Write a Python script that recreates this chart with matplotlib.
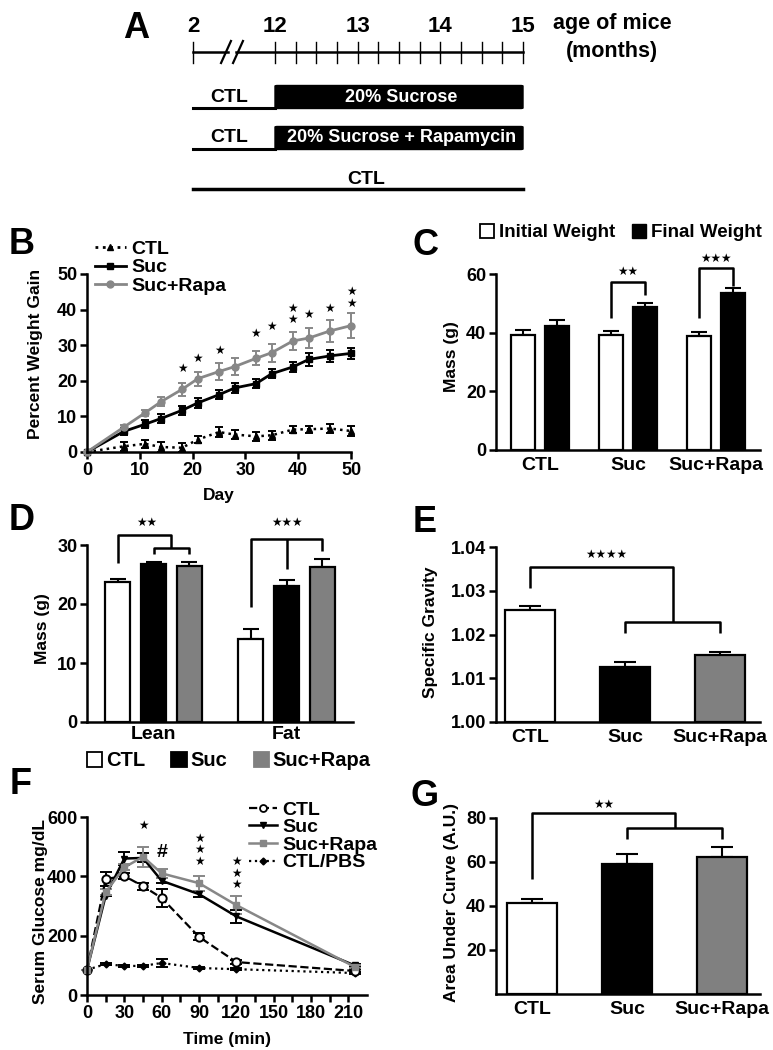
import numpy as np
import matplotlib
matplotlib.use('Agg')
import matplotlib.pyplot as plt
from matplotlib.patches import FancyBboxPatch, Patch
from matplotlib.lines import Line2D

plt.rcParams['font.family'] = ['Liberation Sans', 'DejaVu Sans']
plt.rcParams['font.weight'] = 'bold'
plt.rcParams['axes.labelweight'] = 'bold'
plt.rcParams['axes.linewidth'] = 1.8
plt.rcParams['xtick.major.width'] = 1.8
plt.rcParams['ytick.major.width'] = 1.8
plt.rcParams['xtick.minor.width'] = 1.8
plt.rcParams['xtick.major.size'] = 5
plt.rcParams['ytick.major.size'] = 5
plt.rcParams['xtick.minor.size'] = 5
plt.rcParams['xtick.labelsize'] = 13
plt.rcParams['ytick.labelsize'] = 13
plt.rcParams['axes.labelsize'] = 12.5

# ---------------- data ----------------
# Panel A (schematic)
age_labels = ['2', '12', '13', '14', '15']
age_months = [2, 12, 13, 14, 15]
diet_start, diet_end = 12, 15
diet_labels = ['20% Sucrose', '20% Sucrose + Rapamycin']

# Panel B
days = [0, 7, 11, 14, 18, 21, 25, 28, 32, 35, 39, 42, 46, 50]
b_ctl = [0, 1.6, 2.3, 1.4, 1.2, 3.5, 5.6, 4.9, 4.4, 4.7, 6.3, 6.4, 6.6, 5.9]
b_ctl_err = [0, 1.3, 1.2, 1.3, 1.3, 1.0, 1.3, 1.3, 1.2, 1.3, 1.0, 1.0, 1.2, 1.5]
b_suc = [0, 5.8, 7.8, 9.4, 11.7, 13.8, 16.1, 18.0, 19.2, 22.0, 23.9, 26.0, 27.0, 27.7]
b_suc_err = [0, 1.0, 1.1, 1.3, 1.3, 1.3, 1.2, 1.5, 1.2, 1.2, 1.5, 1.8, 1.6, 1.6]
b_rapa = [0, 7.0, 11.0, 14.1, 17.6, 20.6, 22.6, 24.0, 26.3, 27.9, 31.2, 32.0, 34.0, 35.5]
b_rapa_err = [0, 0.6, 0.8, 1.3, 1.8, 2.0, 2.3, 2.3, 2.0, 2.5, 2.5, 2.8, 3.0, 3.5]
# significance marks: day, number of stacked stars, centre height
b_star_day = [18, 21, 25, 32, 35, 39, 42, 46, 50]
b_star_n = [1, 1, 1, 1, 1, 2, 1, 1, 2]
b_star_y = [23.6, 26.3, 28.4, 33.3, 35.2, 38.8, 38.5, 40.3, 43.4]

groups = ['CTL', 'Suc', 'Suc+Rapa']
# Panel C
c_init = [39.2, 39.1, 38.9]
c_init_err = [1.7, 1.6, 1.3]
c_final = [42.3, 48.6, 53.4]
c_final_err = [1.9, 1.6, 1.7]

# Panel D
d_cats = ['Lean', 'Fat']
d_ctl = [23.7, 14.0]
d_ctl_err = [0.6, 1.7]
d_suc = [26.8, 23.0]
d_suc_err = [0.3, 1.1]
d_rapa = [26.5, 26.3]
d_rapa_err = [0.7, 1.3]

# Panel E
e_vals = [1.0255, 1.0125, 1.0152]
e_err = [0.0010, 0.0012, 0.0007]

# Panel F
times = [0, 15, 30, 45, 60, 90, 120, 215]
f_ctl = [85, 391, 401, 367, 327, 196, 111, 81]
f_ctl_err = [0, 22, 10, 12, 30, 12, 8, 5]
f_suc = [85, 335, 460, 462, 385, 340, 265, 100]
f_suc_err = [0, 0, 22, 15, 8, 10, 22, 5]
f_rapa = [85, 347, 430, 466, 410, 377, 303, 95]
f_rapa_err = [0, 10, 10, 33, 15, 25, 30, 5]
f_pbs = [85, 104, 98, 98, 108, 91, 87, 74]
f_pbs_err = [0, 4, 4, 4, 13, 4, 4, 4]
f_star_t = [45, 90, 120]
f_star_n = [1, 3, 3]
f_star_y = [573, 489, 411]

# Panel G
g_vals = [41.5, 59.0, 62.5]
g_err = [1.8, 4.5, 4.2]

W, H = 773, 1050
GRAY = '#878787'
BAR_COLORS = ['white', 'black', '#808080']

fig = plt.figure(figsize=(W / 100, H / 100), dpi=100)


def add_ax(l, t, r, b):
    return fig.add_axes([l / W, 1 - b / H, (r - l) / W, (b - t) / H])


def style(ax):
    for s in ['top', 'right']:
        ax.spines[s].set_visible(False)
    ax.tick_params(direction='out', pad=2)


def star(ax, x, y, s, fs=8.5):
    ax.text(x, y, s, ha='center', va='center', fontsize=fs, clip_on=False,
            family=['DejaVu Sans'], linespacing=0.85)


def brk(ax, xs, ys):
    ax.plot(xs, ys, color='k', lw=1.8, clip_on=False, solid_capstyle='butt')


def up_err(ax, x, y, e, cap=6, lw=1.5):
    ax.errorbar(x, y, yerr=[np.zeros(len(e)), e], fmt='none', ecolor='k',
                elinewidth=lw, capsize=cap, capthick=lw, zorder=1)


def panel_letter(x, y, s):
    fig.text(x / W, 1 - y / H, s, fontsize=26, fontweight='bold', ha='center', va='center')


# ---------------- Panel A ----------------
axA = fig.add_axes([0, 1 - 200 / H, 1, 200 / H])
axA.axis('off')
ppm = 82.67  # px per month
def mpx(px):
    return 12 + (px - 275) / ppm
axA.set_xlim(mpx(0), mpx(W))
axA.set_ylim(200, 0)
start_pos = mpx(193)
pos = [start_pos] + age_months[1:]
for lab, p in zip(age_labels, pos):
    axA.text(p, 27, lab, ha='center', va='center', fontsize=16)
b1, b2 = mpx(226), mpx(238)
axA.plot([start_pos, b1 + 0.03], [52, 52], color='k', lw=1.8)
axA.plot([b2 - 0.03, diet_end], [52, 52], color='k', lw=1.8)
for bx in (b1, b2):
    axA.plot([bx - 0.06, bx + 0.06], [63, 41], color='k', lw=1.6)
ticks = [start_pos] + list(np.arange(diet_start, diet_end + 0.01, 0.25))
for t in ticks:
    axA.plot([t, t], [42, 63], color='k', lw=1.0)
axA.text(mpx(612), 24, 'age of mice', ha='center', va='center', fontsize=15.5)
axA.text(mpx(612), 51, '(months)', ha='center', va='center', fontsize=15.5)
for i, (lab, yc) in enumerate(zip(diet_labels, [97, 138])):
    box = FancyBboxPatch((diet_start, yc - 11.5), diet_end - diet_start, 23,
                         boxstyle='round,pad=0,rounding_size=0.03', fc='black', ec='black',
                         mutation_aspect=20)
    axA.add_patch(box)
    axA.plot([start_pos, diet_start], [yc + 11, yc + 11], color='k', lw=2.2)
    axA.text(mpx(229), yc, 'CTL', ha='center', va='center', fontsize=14)
    axA.text((diet_start + diet_end) / 2 + 0.03, yc, lab, ha='center', va='center',
             fontsize=13, color='white')
axA.plot([start_pos, diet_end], [189, 189], color='k', lw=2.5)
axA.text((start_pos + diet_end) / 2 + 0.1, 179, 'CTL', ha='center', va='center', fontsize=14)
panel_letter(136, 28, 'A')

# ---------------- Panel B ----------------
axB = add_ax(87, 274, 351, 452)
style(axB)
axB.errorbar(days, b_ctl, yerr=b_ctl_err, color='k', ls=':', lw=1.8, marker='^', ms=5,
             capsize=3, elinewidth=1.4, capthick=1.4, label='CTL', clip_on=False)
axB.errorbar(days, b_suc, yerr=b_suc_err, color='k', ls='-', lw=2, marker='s', ms=5,
             capsize=3, elinewidth=1.4, capthick=1.4, label='Suc', clip_on=False)
axB.errorbar(days, b_rapa, yerr=b_rapa_err, color=GRAY, ls='-', lw=2, marker='o', ms=5,
             capsize=3, elinewidth=1.4, capthick=1.4, label='Suc+Rapa', clip_on=False)
axB.set_xlim(0, 50)
axB.set_ylim(0, 50)
axB.set_xticks(range(0, 51, 10))
axB.set_yticks(range(0, 51, 10))
for d, n, y in zip(b_star_day, b_star_n, b_star_y):
    star(axB, d, y, '\n'.join(['★'] * n))
axB.set_ylabel('Percent Weight Gain')
axB.yaxis.set_label_coords(-0.165, 0.55)
axB.set_xlabel('Day')
axB.xaxis.set_label_coords(0.5, -0.2)
hB = [Line2D([], [], color='k', ls=':', lw=2, marker='^', ms=5),
      Line2D([], [], color='k', ls='-', lw=2, marker='s', ms=5),
      Line2D([], [], color=GRAY, ls='-', lw=2, marker='o', ms=5)]
axB.legend(hB, ['CTL', 'Suc', 'Suc+Rapa'], loc='upper left', bbox_to_anchor=(0.03, 1.19),
           frameon=False, fontsize=14, handlelength=1.6, handletextpad=0.25,
           labelspacing=0.05, borderaxespad=0, borderpad=0)
panel_letter(22, 244, 'B')

# ---------------- Panel C ----------------
axC = add_ax(496, 274, 760, 450)
style(axC)
xc = np.arange(len(groups))
off, bw = 0.19, 0.27
axC.bar(xc - off, c_init, bw, color='white', edgecolor='k', lw=1.6, zorder=2)
axC.bar(xc + off, c_final, bw, color='black', edgecolor='k', lw=1.6, zorder=2)
up_err(axC, xc - off, c_init, c_init_err)
up_err(axC, xc + off, c_final, c_final_err)
axC.set_xlim(-0.5, 2.5)
axC.set_ylim(0, 60)
axC.set_yticks([0, 20, 40, 60])
axC.set_xticks(xc)
axC.set_xticklabels(groups, fontsize=14)
axC.tick_params(axis='x', length=0, pad=5)
axC.set_ylabel('Mass (g)')
axC.yaxis.set_label_coords(-0.14, 0.53)
brk(axC, [1 - off, 1 - off, 1 + off, 1 + off], [45, 57.3, 57.3, 52.8])
brk(axC, [2 - off, 2 - off, 2 + off, 2 + off], [45, 62, 62, 56])
star(axC, 1, 60.8, '★★')
star(axC, 2, 65.2, '★★★')
hC = [Patch(fc='white', ec='k', lw=1.3), Patch(fc='black', ec='k')]
axC.legend(hC, ['Initial Weight', 'Final Weight'], loc='center left', bbox_to_anchor=(-0.06, 1.235),
           ncol=2, frameon=False, fontsize=13.5, handlelength=0.75, handleheight=0.75,
           handletextpad=0.25, columnspacing=0.9, borderaxespad=0, borderpad=0)
panel_letter(425, 245, 'C')

# ---------------- Panel D ----------------
axD = add_ax(87, 545, 353, 722)
style(axD)
xd = np.arange(len(d_cats))
doff, dbw = 0.27, 0.19
for k, (vals, errs) in enumerate([(d_ctl, d_ctl_err), (d_suc, d_suc_err), (d_rapa, d_rapa_err)]):
    xx = xd + (k - 1) * doff
    axD.bar(xx, vals, dbw, color=BAR_COLORS[k], edgecolor='k', lw=1.6, zorder=2)
    up_err(axD, xx, vals, errs, cap=5.5)
axD.set_xlim(-0.5, 1.5)
axD.set_ylim(0, 30)
axD.set_yticks([0, 10, 20, 30])
axD.set_xticks(xd)
axD.set_xticklabels(d_cats, fontsize=14)
axD.tick_params(axis='x', length=0, pad=3)
axD.set_ylabel('Mass (g)')
axD.yaxis.set_label_coords(-0.14, 0.53)
mid = (0 + doff / 2)
brk(axD, [-doff, -doff, mid, mid], [27, 31.7, 31.7, 29.5])
brk(axD, [0, 0, doff, doff], [28.5, 29.5, 29.5, 28.5])
star(axD, (-doff + mid) / 2 + 0.02, 33.8, '★★')
brk(axD, [1 - doff, 1 - doff, 1 + doff, 1 + doff], [19.5, 31, 31, 28.9])
brk(axD, [1, 1], [31, 26])
star(axD, 1, 33.8, '★★★')
hD = [Patch(fc=c, ec='k' if c == 'white' else c, lw=1.3) for c in BAR_COLORS]
axD.legend(hD, groups, loc='center left', bbox_to_anchor=(0.0, -0.22), ncol=3,
           frameon=False, fontsize=14.5, handlelength=0.75, handleheight=0.75,
           handletextpad=0.2, columnspacing=1.3, borderaxespad=0, borderpad=0)
panel_letter(22, 520, 'D')

# ---------------- Panel E ----------------
axE = add_ax(496, 547, 760, 722)
style(axE)
xe = np.arange(len(groups))
axE.bar(xe, np.array(e_vals) - 1.0, 0.52, bottom=1.0, color=BAR_COLORS, edgecolor='k', lw=1.6, zorder=2)
up_err(axE, xe, e_vals, e_err, cap=8)
axE.set_xlim(-0.36, 2.42)
axE.set_ylim(1.00, 1.04)
axE.set_yticks([1.00, 1.01, 1.02, 1.03, 1.04])
axE.set_yticklabels(['1.00', '1.01', '1.02', '1.03', '1.04'])
axE.set_xticks(xe)
axE.set_xticklabels(groups, fontsize=14)
axE.tick_params(axis='x', length=0, pad=5)
axE.set_ylabel('Specific Gravity')
axE.yaxis.set_label_coords(-0.22, 0.51)
brk(axE, [0, 0, 1.5, 1.5], [1.0306, 1.0354, 1.0354, 1.0229])
brk(axE, [1, 1, 2, 2], [1.0203, 1.0229, 1.0229, 1.0203])
star(axE, 0.8, 1.0382, '★★★★')
panel_letter(425, 522, 'E')

# ---------------- Panel F ----------------
axF = add_ax(87, 817, 367, 995)
style(axF)
ekw = dict(capsize=4, elinewidth=1.4, capthick=1.4, clip_on=False)
axF.errorbar(times, f_pbs, yerr=f_pbs_err, color='k', ls=':', lw=1.6, marker='D', ms=3.5, **ekw)
axF.errorbar(times, f_ctl, yerr=f_ctl_err, color='k', ls='--', lw=1.6, marker='o', ms=6,
             mfc='white', mec='k', mew=1.4, **ekw)
axF.errorbar(times, f_suc, yerr=f_suc_err, color='k', ls='-', lw=1.8, marker='v', ms=5, **ekw)
axF.errorbar(times, f_rapa, yerr=f_rapa_err, color=GRAY, ls='-', lw=1.8, marker='s', ms=5, **ekw)
axF.set_xlim(0, 225)
axF.set_ylim(0, 600)
axF.set_xticks(range(0, 211, 30))
axF.set_xticks(range(15, 211, 30), minor=True)
axF.set_yticks([0, 200, 400, 600])
for t, n, y in zip(f_star_t, f_star_n, f_star_y):
    star(axF, t, y, '\n'.join(['★'] * n))
axF.text(60, 482, '#', ha='center', va='center', fontsize=14)
axF.set_ylabel('Serum Glucose mg/dL')
axF.yaxis.set_label_coords(-0.14, 0.47)
axF.set_xlabel('Time (min)')
axF.xaxis.set_label_coords(0.5, -0.21)
hF = [Line2D([], [], color='k', ls='--', lw=1.6, marker='o', ms=5, mfc='white', mew=1.3),
      Line2D([], [], color='k', ls='-', lw=1.8, marker='v', ms=5),
      Line2D([], [], color=GRAY, ls='-', lw=1.8, marker='s', ms=5),
      Line2D([], [], color='k', ls=':', lw=1.6, marker='D', ms=3.5)]
axF.legend(hF, ['CTL', 'Suc', 'Suc+Rapa', 'CTL/PBS'], loc='upper left',
           bbox_to_anchor=(0.58, 1.09), frameon=False, fontsize=14, handlelength=1.4,
           handletextpad=0.3, labelspacing=0.0, borderaxespad=0, borderpad=0)
panel_letter(21, 785, 'F')

# ---------------- Panel G ----------------
axG = add_ax(496, 818, 760, 994)
style(axG)
xg = np.arange(len(groups))
axG.bar(xg, g_vals, 0.53, color=BAR_COLORS, edgecolor='k', lw=1.6, zorder=2)
up_err(axG, xg, g_vals, g_err, cap=8)
axG.set_xlim(-0.38, 2.4)
axG.set_ylim(0, 80)
axG.set_yticks([20, 40, 60, 80])
axG.set_xticks(xg)
axG.set_xticklabels(groups, fontsize=14)
axG.tick_params(axis='x', length=0, pad=5)
axG.set_ylabel('Area Under Curve (A.U.)')
axG.yaxis.set_label_coords(-0.14, 0.52)
brk(axG, [0, 0, 1.5, 1.5], [52.3, 82.3, 82.3, 75.5])
brk(axG, [1, 1, 2, 2], [70.5, 75.5, 75.5, 70.5])
star(axG, 0.75, 86, '★★')
panel_letter(425, 797, 'G')

fig.savefig('out.png', dpi=100)
